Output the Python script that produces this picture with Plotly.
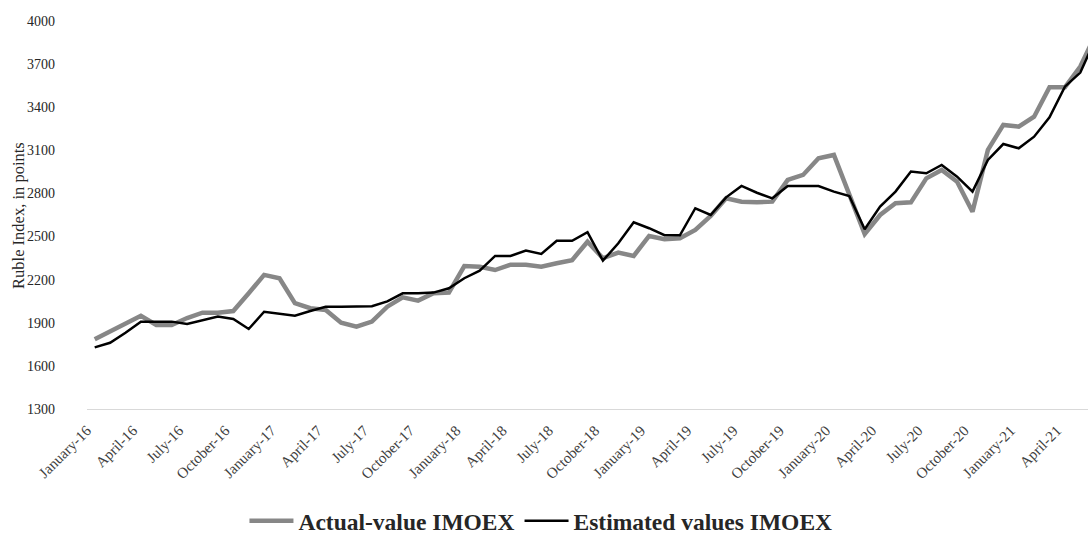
import plotly.graph_objects as go

# Monthly periods, January 2016 - June 2021
months = ["January", "February", "March", "April", "May", "June", "July",
          "August", "September", "October", "November", "December"]
periods = [f"{m}-{y}" for y in range(16, 22) for m in months][:66]

# Actual IMOEX closing values, points
actual = [1785, 1838, 1889, 1949, 1885, 1885, 1933, 1970, 1970, 1982,
          2105, 2233, 2210, 2036, 2001, 1989, 1901, 1873, 1908, 2012,
          2077, 2054, 2105, 2110, 2295, 2290, 2267, 2304, 2304, 2290,
          2314, 2336, 2464, 2349, 2388, 2365, 2504, 2481, 2488, 2546,
          2643, 2766, 2743, 2738, 2743, 2894, 2929, 3045, 3068, 2789,
          2518, 2650, 2732, 2738, 2905, 2963, 2882, 2673, 3103, 3277,
          3265, 3334, 3539, 3539, 3683, 3906]

# Model estimates of IMOEX, points
estimated = [1729, 1761, 1831, 1908, 1908, 1908, 1892, 1919, 1943, 1926,
             1857, 1977, 1961, 1949, 1982, 2012, 2012, 2012, 2015, 2049,
             2105, 2105, 2110, 2140, 2210, 2263, 2365, 2365, 2402, 2379,
             2471, 2471, 2530, 2332, 2453, 2599, 2558, 2509, 2509, 2697,
             2650, 2773, 2852, 2805, 2766, 2852, 2852, 2852, 2813, 2782,
             2551, 2708, 2813, 2952, 2940, 2998, 2917, 2813, 3033, 3144,
             3114, 3195, 3330, 3543, 3641, 3878]

tick_labels = periods[::3]
y_ticks = list(range(1300, 4001, 300))

serif = "Liberation Serif, Times New Roman, serif"

fig = go.Figure()
fig.add_trace(go.Scatter(
    x=periods, y=actual, mode="lines", name="Actual-value IMOEX",
    line=dict(color="#878787", width=4.5),
))
fig.add_trace(go.Scatter(
    x=periods, y=estimated, mode="lines", name="Estimated values IMOEX",
    line=dict(color="#000000", width=2.5),
))

fig.update_layout(
    width=1088, height=535,
    margin=dict(l=87, r=0, t=21, b=126, autoexpand=False),
    paper_bgcolor="white", plot_bgcolor="white",
    font=dict(family=serif, color="#262626", size=14),
    showlegend=True,
    legend=dict(
        orientation="h", x=0.4535, xanchor="center", y=-0.232, yanchor="top",
        font=dict(family=serif, size=23.5, color="#262626", weight="bold"),
        itemwidth=44, tracegroupgap=0,
    ),
    xaxis=dict(
        type="category", range=[-0.5, 64.5], automargin=False,
        tickmode="array", tickvals=tick_labels, ticktext=tick_labels,
        tickangle=-45, showgrid=False, zeroline=False,
        showline=True, linecolor="#d9d9d9", linewidth=1,
        ticks="", ticklabelstandoff=6, ticklabelshift=-8,
        tickfont=dict(family=serif, size=15, color="#404040"),
    ),
    yaxis=dict(
        range=[1300, 4000], tickmode="array", tickvals=y_ticks,
        automargin=False,
        showgrid=False, zeroline=False, showline=False, ticks="",
        ticklabelstandoff=31,
        tickfont=dict(family=serif, size=14, color="#262626"),
    ),
    annotations=[dict(
        text="Ruble Index, in points", textangle=-90,
        xref="paper", yref="paper", x=-0.069, y=0.5,
        xanchor="center", yanchor="middle", showarrow=False,
        font=dict(family=serif, size=16.5, color="#262626"),
    )],
)

fig.write_html("out.html")
